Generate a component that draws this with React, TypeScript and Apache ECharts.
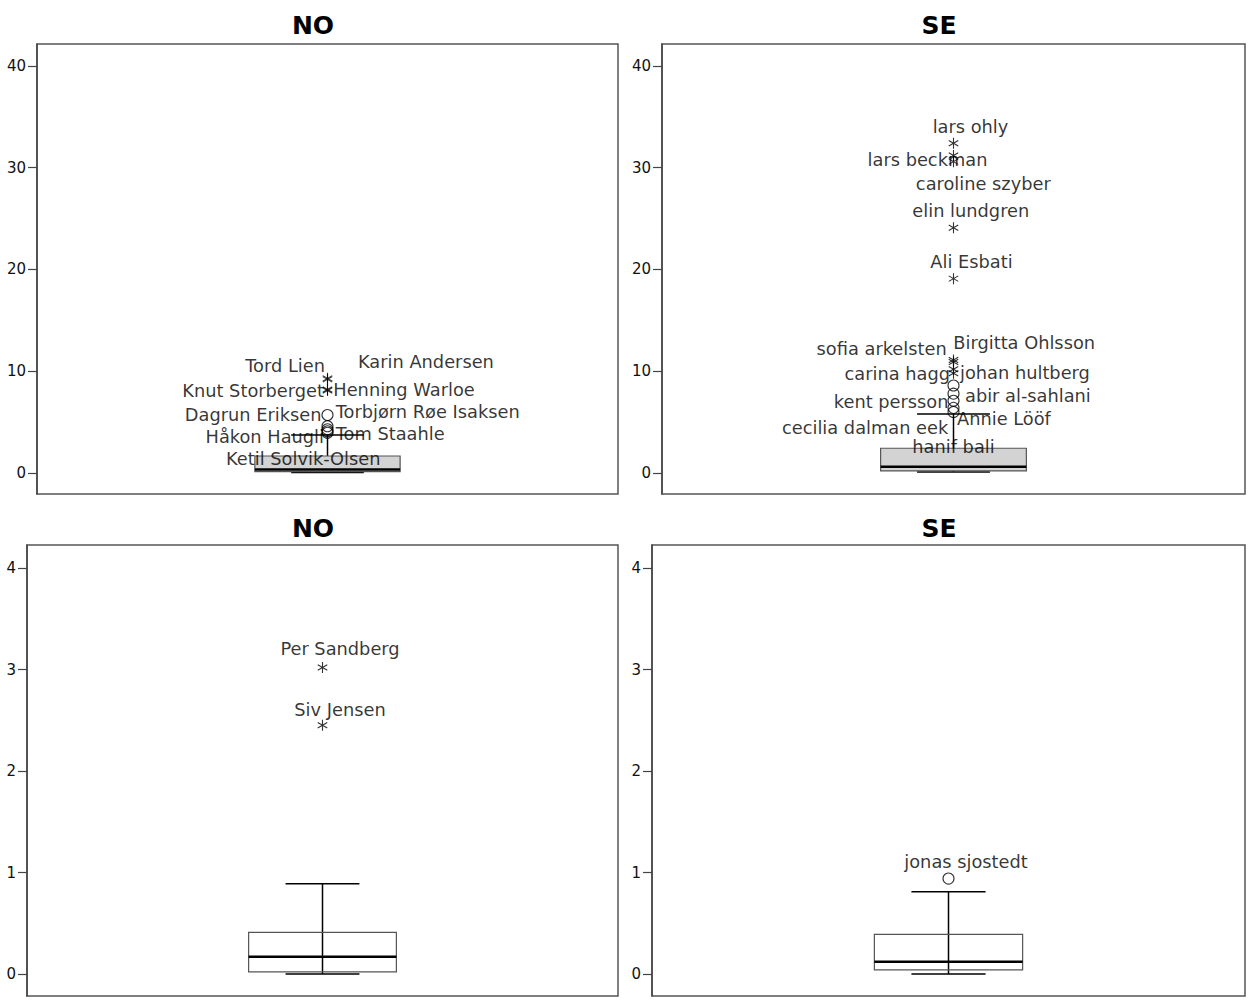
import React, { useEffect, useRef } from "react";
import * as echarts from "echarts";

const panelTitles = ["NO", "SE", "NO", "SE"];
const topTicks = [0, 10, 20, 30, 40];
const bottomTicks = [0, 1, 2, 3, 4];

// five-number summaries [lower whisker, Q1, median, Q3, upper whisker]
const noTopBox = [0.05, 0.13, 0.35, 1.67, 3.73];
const seTopBox = [0.1, 0.2, 0.62, 2.43, 5.8];
const noBottomBox = [0.0, 0.02, 0.17, 0.41, 0.89];
const seBottomBox = [0.0, 0.04, 0.12, 0.39, 0.81];

// outliers ("o") and extremes ("*")
const noTopNames = ["Tord Lien", "Karin Andersen", "Knut Storberget", "Henning Warloe", "Dagrun Eriksen", "Torbjørn Røe Isaksen", "Håkon Haugli", "Tom Staahle", "Ketil Solvik-Olsen"];
const noTopValues = [9.3, 9.2, 8.2, 8.1, 5.7, 4.6, 4.3, 4.1, 3.95];
const noTopKinds = ["*", "*", "*", "*", "o", "o", "o", "o", "o"];

const seTopNames = ["lars ohly", "lars beckman", "caroline szyber", "elin lundgren", "Ali Esbati", "Birgitta Ohlsson", "sofia arkelsten", "carina hagg", "johan hultberg", "abir al-sahlani", "kent persson", "hanif bali", "Annie Lööf", "cecilia dalman eek"];
const seTopValues = [32.4, 31.2, 30.6, 24.1, 19.1, 11.1, 10.9, 10.2, 9.8, 8.6, 7.8, 7.1, 6.4, 6.0];
const seTopKinds = ["*", "*", "*", "*", "*", "*", "*", "*", "*", "o", "o", "o", "o", "o"];

const noBottomNames = ["Per Sandberg", "Siv Jensen"];
const noBottomValues = [3.02, 2.45];
const noBottomKinds = ["*", "*"];

const seBottomNames = ["jonas sjostedt"];
const seBottomValues = [0.94];
const seBottomKinds = ["o"];

// label layout: [align, dx, dy] relative to the marker (layout only)
const noTopLabelLayout = [["right", -2.5, -12.4], ["left", 30.5, -17.4], ["right", -3.5, 1.4], ["left", 5.8, -0.6], ["right", -6, 0], ["left", 8.2, -14.5], ["right", -3.5, 7.5], ["left", 8.2, 2.7], ["center", -24.2, 25.5]];
const seTopLabelLayout = [["center", 17, -16.6], ["center", -26, 3.8], ["center", 29.8, 21.7], ["center", 17.3, -17.1], ["center", 18, -17], ["left", -0.2, -17.3], ["right", -6.8, -13.7], ["right", -3.5, 4.1], ["left", 6.5, -1], ["left", 11.5, 10.5], ["right", -5, 8], ["center", 0, 46], ["left", 3.5, 10.4], ["right", -5.2, 15.3]];
const noBottomLabelLayout = [["center", 17.5, -18.5], ["center", 17.5, -16.3]];
const seBottomLabelLayout = [["center", 17.5, -17]];

const STAR = "path://M5 0 L5 10 M0.67 2.5 L9.33 7.5 M0.67 7.5 L9.33 2.5";
const FONT = "DejaVu Sans";

export default function App() {
  const ref = useRef<HTMLDivElement>(null);

  useEffect(() => {
    if (!ref.current) return;
    const chart = echarts.init(ref.current, undefined, { renderer: "svg" });

    const panels = [
      { grid: { left: 37, top: 44, width: 581, height: 450 }, min: -2.064, max: 42.16, ticks: topTicks, box: noTopBox, names: noTopNames, values: noTopValues, kinds: noTopKinds, layout: noTopLabelLayout, fill: "#d3d3d3" },
      { grid: { left: 662, top: 44, width: 583, height: 450 }, min: -2.064, max: 42.16, ticks: topTicks, box: seTopBox, names: seTopNames, values: seTopValues, kinds: seTopKinds, layout: seTopLabelLayout, fill: "#d3d3d3" },
      { grid: { left: 27, top: 545, width: 591, height: 451 }, min: -0.2167, max: 4.2266, ticks: bottomTicks, box: noBottomBox, names: noBottomNames, values: noBottomValues, kinds: noBottomKinds, layout: noBottomLabelLayout, fill: "rgba(0,0,0,0)" },
      { grid: { left: 652, top: 545, width: 593, height: 451 }, min: -0.2167, max: 4.2266, ticks: bottomTicks, box: seBottomBox, names: seBottomNames, values: seBottomValues, kinds: seBottomKinds, layout: seBottomLabelLayout, fill: "rgba(0,0,0,0)" },
    ];

    const grids = panels.map((p) => ({
      ...p.grid,
      show: true,
      borderColor: "#555",
      borderWidth: 1.5,
      backgroundColor: "#fff",
      containLabel: false,
      outerBoundsMode: "none",
    }));

    const xAxes = panels.map((_, i) => ({
      type: "category",
      gridIndex: i,
      data: ["all"],
      show: false,
    }));

    const yAxes = panels.map((p, i) => ({
      type: "value",
      gridIndex: i,
      min: p.min,
      max: p.max,
      splitLine: { show: false },
      axisLine: { show: true, lineStyle: { color: "#444", width: 1.5 } },
      axisTick: { show: true, length: 9, customValues: p.ticks, lineStyle: { color: "#444", width: 1.2 } },
      axisLabel: { show: true, customValues: p.ticks, margin: 11, color: "#111", fontSize: 15, fontFamily: FONT },
    }));

    const series: any[] = [];
    panels.forEach((p, i) => {
      const fill = p.fill;
      series.push({
        type: "custom",
        xAxisIndex: i,
        yAxisIndex: i,
        data: [[0, ...p.box]],
        encode: { x: 0, y: [1, 2, 3, 4, 5] },
        renderItem: (params: any, api: any) => {
          const xv = api.value(0);
          const vals = [1, 2, 3, 4, 5].map((k) => api.value(k));
          const pts = vals.map((v) => api.coord([xv, v]));
          const cx = pts[0][0];
          const band = api.size([1, 0])[0];
          const bw = band * 0.25;
          const cw = bw * 0.5;
          const black = { stroke: "#000", lineWidth: 1.5 };
          return {
            type: "group",
            children: [
              { type: "line", shape: { x1: cx, y1: pts[0][1], x2: cx, y2: pts[4][1] }, style: black },
              { type: "line", shape: { x1: cx - cw / 2, y1: pts[0][1], x2: cx + cw / 2, y2: pts[0][1] }, style: black },
              { type: "line", shape: { x1: cx - cw / 2, y1: pts[4][1], x2: cx + cw / 2, y2: pts[4][1] }, style: black },
              { type: "rect", shape: { x: cx - bw / 2, y: pts[3][1], width: bw, height: pts[1][1] - pts[3][1] }, style: { fill, stroke: "#555", lineWidth: 1.2 } },
              { type: "line", shape: { x1: cx - bw / 2, y1: pts[2][1], x2: cx + bw / 2, y2: pts[2][1] }, style: { stroke: "#000", lineWidth: 2.5 } },
            ],
          };
        },
        z: 2,
      });

      series.push({
        type: "scatter",
        xAxisIndex: i,
        yAxisIndex: i,
        z: 3,
        data: p.values.map((v, k) => {
          const [align, dx, dy] = p.layout[k] as [string, number, number];
          const star = p.kinds[k] === "*";
          return {
            name: p.names[k],
            value: [0, v],
            symbol: star ? STAR : "circle",
            symbolSize: 11,
            symbolKeepAspect: true,
            itemStyle: {
              color: "rgba(0,0,0,0)",
              borderColor: "#000",
              borderWidth: 1.1,
            },
            label: {
              show: true,
              position: ["50%", "50%"],
              align,
              verticalAlign: "middle",
              offset: [dx, dy],
              formatter: p.names[k],
              color: "#000",
              fontSize: 17.8,
              fontFamily: FONT,
              textBorderWidth: 0,
            },
          };
        }),
      });
    });

    const titleX = [313, 939, 313, 939];
    const titleY = [25, 25, 528, 528];

    chart.setOption({
      animation: false,
      backgroundColor: "#fff",
      grid: grids,
      xAxis: xAxes,
      yAxis: yAxes,
      series,
      graphic: panelTitles.map((t, i) => ({
        type: "text",
        x: titleX[i],
        y: titleY[i],
        style: {
          text: t,
          align: "center",
          verticalAlign: "middle",
          font: `bold 25px "${FONT}"`,
          fill: "#000",
        },
      })),
    });

    return () => chart.dispose();
  }, []);

  return (
    <div
      ref={ref}
      style={{ position: "absolute", left: 0, top: 0, width: 1252, height: 1002, background: "#fff" }}
    />
  );
}
